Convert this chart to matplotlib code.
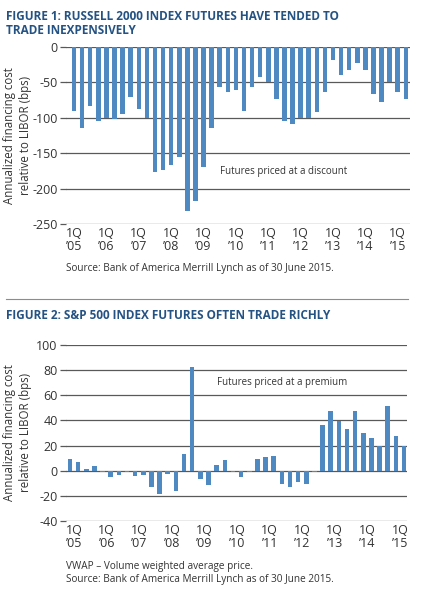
import matplotlib
matplotlib.use("Agg")
import matplotlib.pyplot as plt

plt.rcParams["font.family"] = ["Open Sans", "DejaVu Sans"]
plt.rcParams["axes.unicode_minus"] = False

# Figure 1: Russell 2000, quarterly 1Q05 - 2Q15
russell = [-90, -115, -83, -104, -100, -102, -95, -70, -87, -100,
           -176, -174, -167, -156, -231, -218, -169, -115, -56, -64,
           -60, -90, -57, -42, -49, -73, -105, -109, -100, -100,
           -92, -64, -18, -39, -33, -22, -32, -66, -77, -50,
           -64, -74]

# Figure 2: S&P 500, same quarters
sp500 = [9, 6.6, 1, 3.7, -1.3, -5, -3.4, -1.3, -4.2, -3.4,
         -13, -18.5, -2.6, -16.4, 13, 82.6, -6.6, -11.4, 4.2, 8.2,
         -1.3, -5, -1.3, 9, 10.6, 11.6, -10.6, -13, -9, -10.6,
         -1.3, 36.3, 47.5, 39.7, 33, 47.5, 29.8, 25.8, 20, 51.5,
         27.5, 20]

years = ["\u201905", "\u201906", "\u201907", "\u201908", "\u201909", "\u201910",
         "\u201911", "\u201912", "\u201913", "\u201914", "\u201915"]
tick_labels = [f"1Q\n{y}" for y in years]

BAR = "#4f89c1"
GRID = "#595959"
TITLE = "#245283"
TXT = "#333333"
YLABEL = "Annualized financing cost\nrelative to LIBOR (bps)"


def style(ax, yticks, width_px):
    for s in ax.spines.values():
        s.set_visible(False)
    ax.set_yticks(yticks)
    ax.yaxis.grid(True, color=GRID, linewidth=0.9)
    ax.set_axisbelow(True)
    ax.tick_params(axis="y", length=4, color=GRID, width=0.9, labelsize=9, labelcolor=TXT, pad=2)
    ax.tick_params(axis="x", length=0, labelsize=9, labelcolor=TXT, pad=2)
    for lab in ax.get_xticklabels():
        lab.set_linespacing(1.0)
    ax.set_ylabel(YLABEL, fontsize=8.3, color=TXT, linespacing=1.3)
    ax.yaxis.set_label_coords((32 - 66) / width_px, 0.5)


fig = plt.figure(figsize=(4.31, 5.99), dpi=100)

x = list(range(len(russell)))

ax1 = fig.add_axes([0.153, 0.626, 0.798, 0.2955])
ax1.bar(x, russell, width=0.56, color=BAR)
ax1.set_ylim(-250, 0)
ax1.set_xlim(-1.0, 41.5)
ax1.set_xticks(list(range(0, 41, 4)))
ax1.set_xticklabels(tick_labels)
style(ax1, [0, -50, -100, -150, -200, -250], 344)
ax1.text(18.0, -176, "Futures priced at a discount", fontsize=7, color=TXT, va="center")

ax2 = fig.add_axes([0.153, 0.130, 0.791, 0.2945])
ax2.bar(x, sp500, width=0.56, color=BAR)
ax2.set_ylim(-40, 100)
ax2.set_xlim(-0.5, 41.35)
ax2.set_xticks([i + 0.5 for i in range(0, 41, 4)])
ax2.set_xticklabels(tick_labels)
style(ax2, [-40, -20, 0, 20, 40, 60, 80, 100], 341)
ax2.text(18.0, 70, "Futures priced at a premium", fontsize=7, color=TXT, va="center")

fig.text(6 / 431, 1 - 10 / 599, "FIGURE 1: RUSSELL 2000 INDEX FUTURES HAVE TENDED TO\nTRADE INEXPENSIVELY",
         fontsize=8.5, fontweight="bold", color=TITLE, va="top", ha="left", linespacing=1.15)
fig.text(66 / 431, 1 - 268 / 599, "Source: Bank of America Merrill Lynch as of 30 June 2015.",
         fontsize=7.2, color=TXT, va="center")

fig.add_artist(plt.Line2D([6 / 431, 408 / 431], [1 - 299 / 599, 1 - 299 / 599],
                          color="#8c8c8c", linewidth=0.8))

fig.text(6 / 431, 1 - 309 / 599, "FIGURE 2: S&P 500 INDEX FUTURES OFTEN TRADE RICHLY",
         fontsize=8.5, fontweight="bold", color=TITLE, va="top", ha="left")
fig.text(66 / 431, 1 - 566 / 599, "VWAP \u2013 Volume weighted average price.",
         fontsize=7.2, color=TXT, va="center")
fig.text(66 / 431, 1 - 579.5 / 599, "Source: Bank of America Merrill Lynch as of 30 June 2015.",
         fontsize=7.2, color=TXT, va="center")

fig.savefig("out.png", dpi=100)
